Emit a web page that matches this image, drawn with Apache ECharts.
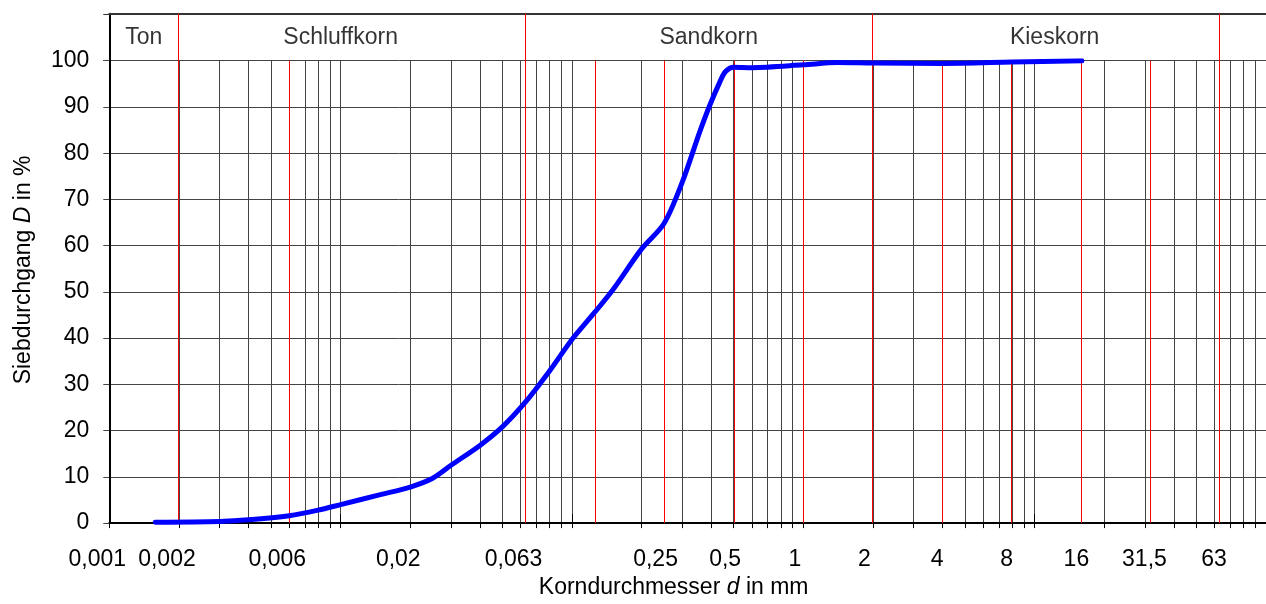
<!DOCTYPE html>
<html>
<head>
<meta charset="utf-8">
<script src="https://cdn.jsdelivr.net/npm/echarts@6/dist/echarts.min.js"></script>
<style>
html, body { margin: 0; padding: 0; background: #fff; }
#main { width: 1266px; height: 604px; }
</style>
</head>
<body>
<div id="main"></div>
<script>
// Körnungslinie: Korndurchmesser d in mm / Siebdurchgang D in %
const korn = [0.00158, 0.003, 0.004, 0.006, 0.008, 0.01, 0.015, 0.02, 0.025, 0.03, 0.04, 0.05, 0.063, 0.08, 0.1, 0.125, 0.15, 0.2, 0.25, 0.3, 0.356, 0.393, 0.434, 0.46, 0.5, 0.6, 1, 1.4, 2, 4, 8, 16];
const durchgang = [0.2, 0.35, 0.7, 1.6, 2.8, 4.0, 6.2, 7.8, 9.7, 12.5, 16.8, 20.8, 26.2, 32.9, 39.7, 45.5, 50.4, 59.3, 64.8, 73.8, 84.5, 90.2, 95.2, 97.6, 98.6, 98.5, 99.1, 99.6, 99.5, 99.4, 99.7, 100];

// x-Achse Beschriftung
const tickWerte = [0.001, 0.002, 0.006, 0.02, 0.063, 0.25, 0.5, 1, 2, 4, 8, 16, 31.5, 63];
const tickTexte = ['0,001', '0,002', '0,006', '0,02', '0,063', '0,25', '0,5', '1', '2', '4', '8', '16', '31,5', '63'];

// rote Linien (Siebe) und Bodenarten-Grenzen
const roteLinien = [0.002, 0.006, 0.063, 0.125, 0.25, 0.5, 1, 2, 4, 8, 16, 31.5, 63];
const grenzen = [0.002, 0.063, 2, 63];
const bodenarten = ['Ton', 'Schluffkorn', 'Sandkorn', 'Kieskorn'];
const bodenartPos = [0.00141, 0.01, 0.39, 12.2];

const log = Math.log10;
const FONT = '"Liberation Sans", Arial, sans-serif';

// log-Raster 1..9 * 10^k
let raster = [];
for (let k = -3; k <= 1; k++) {
    for (let m = 1; m <= 9; m++) {
        raster.push(log(m * Math.pow(10, k)));
    }
}
raster.push(2);
const dekaden = [-3, -2, -1, 0, 1, 2];

const chart = echarts.init(document.getElementById('main'));

const gLeft = 109.3, gRight = -1.4;

function roteMarkLine(werte) {
    return {
        silent: true,
        symbol: 'none',
        z: 1,
        animation: false,
        label: { show: false },
        emphasis: { disabled: true },
        lineStyle: { color: '#ff0000', width: 1, type: 'solid', opacity: 1 },
        data: werte.map(d => ({ xAxis: log(d) }))
    };
}

const option = {
    animation: false,
    textStyle: { fontFamily: FONT },
    grid: [
        { left: gLeft, right: gRight, top: 13.8, height: 46.9 },
        { left: gLeft, right: gRight, top: 60.7, bottom: 74.7 }
    ],
    xAxis: [
        {   // Kopfzeile
            gridIndex: 0, type: 'value', min: -3, max: 2, position: 'top',
            axisLine: { show: true, onZero: false, lineStyle: { color: '#333', width: 2 } },
            axisTick: { show: false },
            axisLabel: { show: false },
            splitLine: { show: false }
        },
        {   // Hauptachse
            gridIndex: 1, type: 'value', min: -3, max: 2,
            axisLine: { show: true, onZero: false, lineStyle: { color: '#000', width: 2 } },
            axisTick: { show: true, length: 5, customValues: raster, lineStyle: { color: '#000' } },
            splitLine: { show: true, lineStyle: { color: '#444', width: 1 } },
            axisLabel: {
                customValues: tickWerte.map(log),
                margin: 25,
                fontSize: 23,
                color: '#000',
                fontFamily: FONT,
                formatter: function (v) {
                    const i = tickWerte.findIndex(d => Math.abs(log(d) - v) < 1e-6);
                    if (i < 0) return '';
                    const d = tickWerte[i];
                    const g = d <= 0.063 ? 'a' : (d <= 2 ? 'b' : 'c');
                    return '{' + g + '|' + tickTexte[i] + '}';
                },
                rich: {
                    a: { fontSize: 23, color: '#000', fontFamily: FONT, padding: [0, 24, 0, 0] },
                    b: { fontSize: 23, color: '#000', fontFamily: FONT, padding: [0, 17, 0, 0] },
                    c: { fontSize: 23, color: '#000', fontFamily: FONT, padding: [0, 11, 0, 0] }
                }
            },
            name: 'Korndurchmesser {i|d} in mm',
            nameLocation: 'middle',
            nameGap: 50,
            nameTextStyle: {
                fontSize: 23, color: '#000', fontFamily: FONT,
                padding: [0, 28, 0, 0],
                rich: { i: { fontSize: 23, color: '#000', fontFamily: FONT, fontStyle: 'italic' } }
            }
        },
        {   // lange Striche an den Dekaden
            gridIndex: 1, type: 'value', min: -3, max: 2,
            axisLine: { show: false },
            axisTick: { show: true, length: 9, customValues: dekaden, lineStyle: { color: '#000', width: 1 } },
            axisLabel: { show: false },
            splitLine: { show: false }
        }
    ],
    yAxis: [
        {
            gridIndex: 0, type: 'value', min: 100, max: 110, interval: 10,
            axisLine: { show: true, onZero: false, lineStyle: { color: '#000', width: 2 } },
            axisTick: { show: true, length: 6, lineStyle: { color: '#333' } },
            axisLabel: { show: false },
            splitLine: { show: false }
        },
        {
            gridIndex: 1, type: 'value', min: 0, max: 100, interval: 10,
            axisLine: { show: true, onZero: false, lineStyle: { color: '#000', width: 2 } },
            axisTick: { show: true, length: 6, lineStyle: { color: '#444' } },
            axisLabel: { margin: 20, fontSize: 23, color: '#000', fontFamily: FONT },
            splitLine: { show: true, lineStyle: { color: '#444', width: 1 } },
            name: 'Siebdurchgang {i|D} in %',
            nameLocation: 'middle',
            nameGap: 74,
            nameTextStyle: {
                fontSize: 23, color: '#000', fontFamily: FONT,
                padding: [0, 0, 0, 44],
                rich: { i: { fontSize: 23, color: '#000', fontFamily: FONT, fontStyle: 'italic' } }
            }
        }
    ],
    series: [
        {
            type: 'scatter',
            xAxisIndex: 0, yAxisIndex: 0,
            silent: true,
            symbolSize: 1,
            itemStyle: { color: 'rgba(0,0,0,0)' },
            label: {
                show: true, position: 'inside',
                fontSize: 23, color: '#000', fontFamily: FONT,
                formatter: p => p.name
            },
            data: bodenarten.map((n, i) => ({ name: n, value: [log(bodenartPos[i]), 105] })),
            markLine: roteMarkLine(grenzen)
        },
        {
            type: 'line',
            xAxisIndex: 1, yAxisIndex: 1,
            smooth: 0.3,
            showSymbol: false,
            silent: true,
            z: 3,
            lineStyle: { color: '#0000ff', width: 5, cap: 'round', join: 'round' },
            data: korn.map((d, i) => [log(d), durchgang[i]]),
            markLine: roteMarkLine(roteLinien)
        }
    ]
};

chart.setOption(option);
</script>
</body>
</html>
